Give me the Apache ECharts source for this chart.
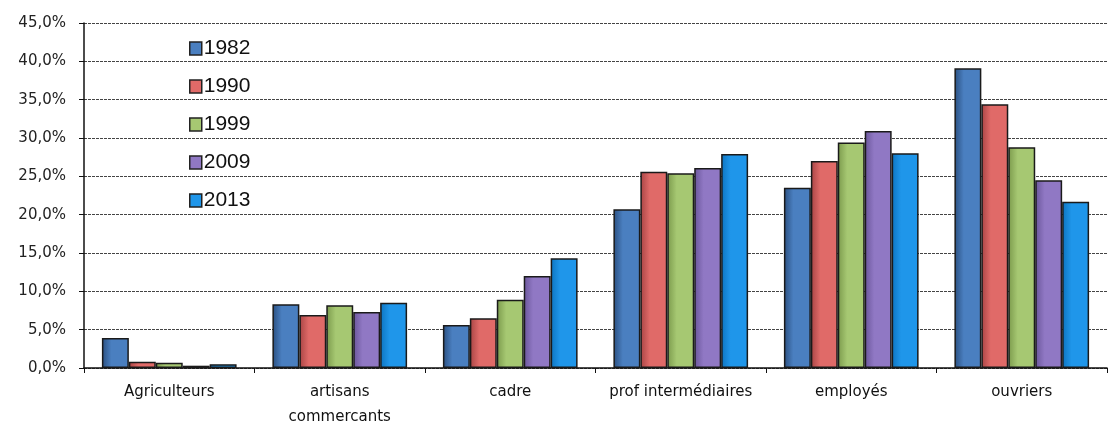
<!DOCTYPE html>
<html><head><meta charset="utf-8">
<script src="https://cdn.jsdelivr.net/npm/echarts@6/dist/echarts.min.js"></script>
<style>html,body{margin:0;padding:0;background:#fff}#c{width:1110px;height:424px}</style>
</head><body><div id="c"></div>
<script>
const categories = ['Agriculteurs', 'artisans\ncommercants', 'cadre', 'prof intermédiaires', 'employés', 'ouvriers'];
const years = ['1982', '1990', '1999', '2009', '2013'];
const v1982 = [3.9, 8.3, 5.6, 20.7, 23.5, 39.1];
const v1990 = [0.8, 6.9, 6.5, 25.6, 27.0, 34.4];
const v1999 = [0.7, 8.2, 8.9, 25.4, 29.4, 28.8];
const v2009 = [0.3, 7.3, 12.0, 26.1, 30.9, 24.5];
const v2013 = [0.5, 8.5, 14.3, 27.9, 28.0, 21.7];
const seriesValues = [v1982, v1990, v1999, v2009, v2013];
const colors = [['#2a4f80', '#4a7fc0'], ['#a84444', '#e06a68'], ['#7b9a4c', '#a6c872'], ['#6a569a', '#9078c4'], ['#0d74c0', '#1f96ea']];

const chart = echarts.init(document.getElementById('c'));
chart.setOption({
  animation: false,
  grid: { left: 84, right: 3, top: 23, bottom: 56, containLabel: false, outerBoundsMode: 'none' },
  legend: {
    orient: 'vertical', left: 184, top: 33, itemWidth: 12, itemHeight: 13, itemGap: 17, icon: 'rect',
    textStyle: { fontFamily: 'Liberation Sans', fontSize: 21, color: '#111', padding: [0, 0, 0, -3] },
    data: years.map((y, i) => ({ name: y, itemStyle: { color: colors[i][1], borderColor: '#222', borderWidth: 1.5 } }))
  },
  xAxis: {
    type: 'category', data: categories,
    axisLine: { lineStyle: { color: '#111', width: 1.5 } },
    axisTick: { show: true, interval: 0, length: 5, lineStyle: { color: '#111' } },
    axisLabel: { interval: 0, fontFamily: 'DejaVu Sans', fontSize: 15, color: '#111', margin: 12, lineHeight: 25 }
  },
  yAxis: {
    type: 'value', min: 0, max: 45, interval: 5,
    axisLine: { show: true, lineStyle: { color: '#111', width: 1.5 } },
    axisTick: { show: true, length: 5, lineStyle: { color: '#111' } },
    axisLabel: { fontFamily: 'DejaVu Sans', fontSize: 15, color: '#222', margin: 18,
      formatter: v => v.toFixed(1).replace('.', ',') + '%' },
    splitLine: { show: true, lineStyle: { color: '#444', type: [3, 1], width: 1.2 } }
  },
  series: seriesValues.map((vals, i) => ({
    name: years[i], type: 'bar', data: vals,
    barGap: '0%', barCategoryGap: '21%',
    itemStyle: {
      color: new echarts.graphic.LinearGradient(0, 0, 1, 0, [
        { offset: 0, color: colors[i][0] }, { offset: 0.35, color: colors[i][1] }, { offset: 1, color: colors[i][1] }
      ]),
      borderColor: '#1a1a1a', borderWidth: 1.5
    }
  }))
});
</script></body></html>
